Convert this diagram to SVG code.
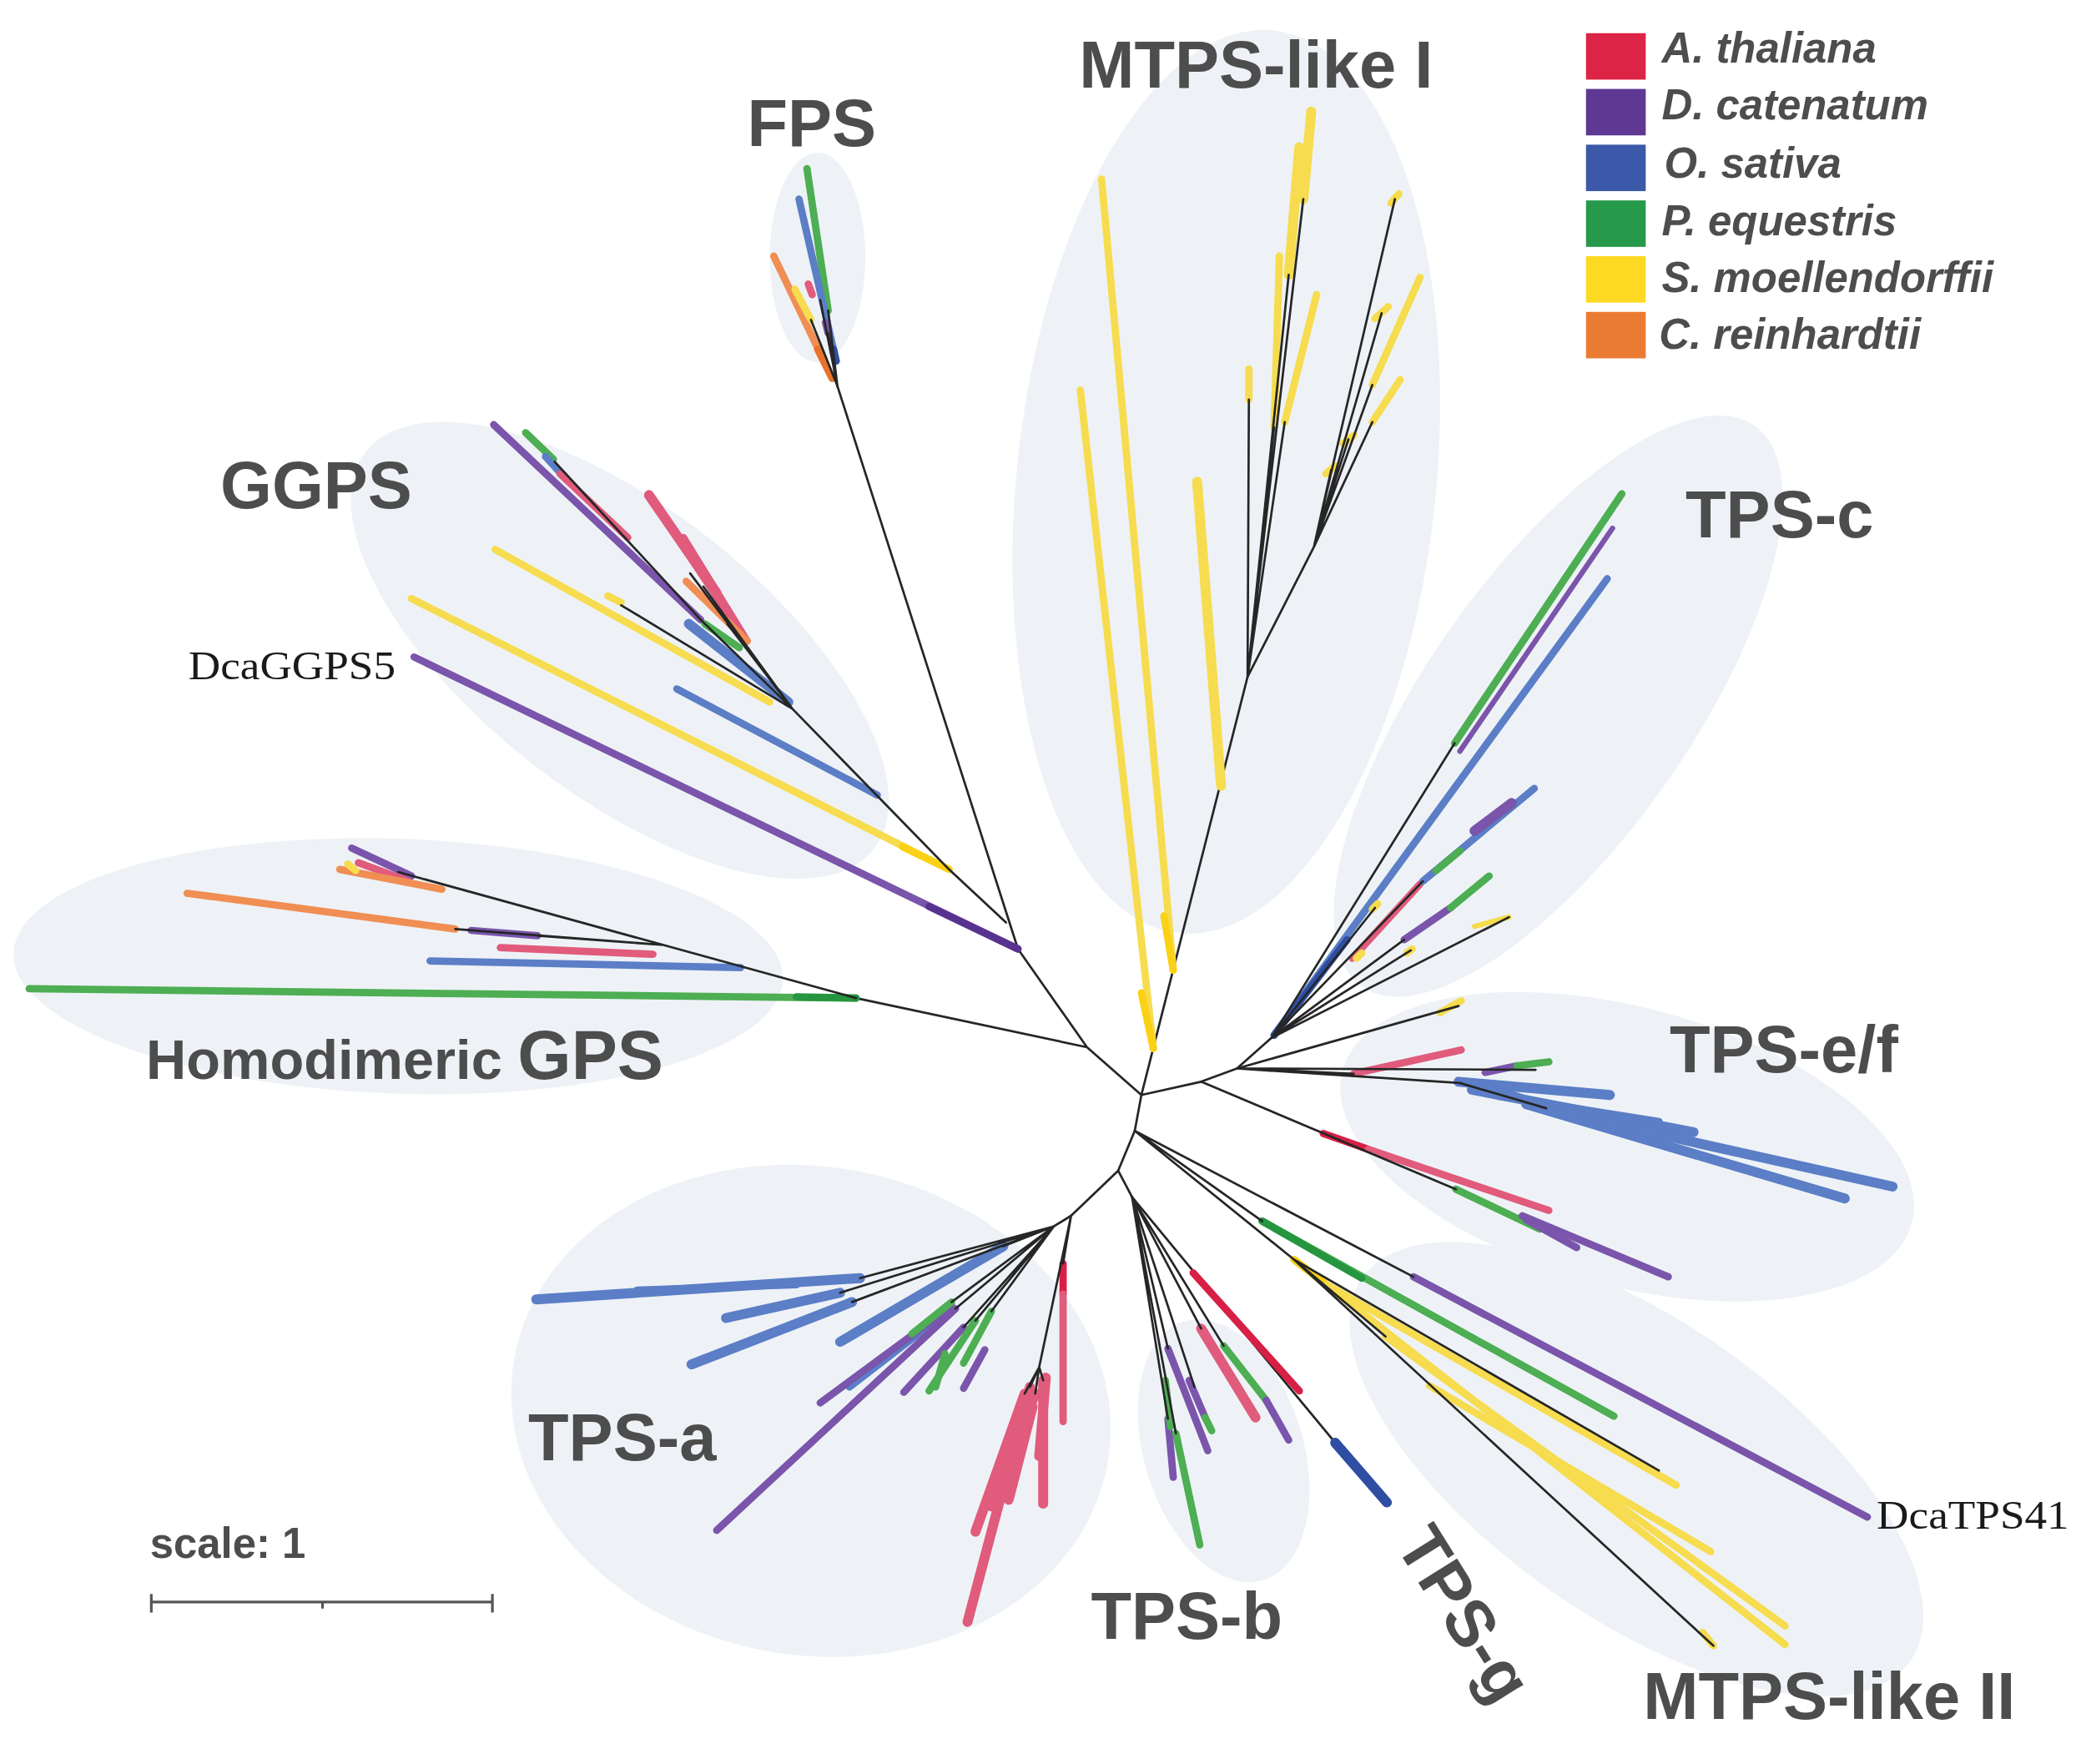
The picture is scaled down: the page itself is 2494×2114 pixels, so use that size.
<svg xmlns="http://www.w3.org/2000/svg" width="2494" height="2114" viewBox="0 0 2494 2114">
<style>
.bg{fill:#eef2f6}
.k{stroke:#262626;stroke-width:1.7;fill:none;stroke-linecap:round}
.L{stroke-width:5.5;stroke-linecap:round;fill:none}
.W{stroke-width:7.5}
.T{stroke-width:4}
.r{stroke:#e05b7c}.rd{stroke:#d81f45}
.p{stroke:#7a55ab}.pd{stroke:#58328f}
.b{stroke:#5b7ec6}.bd{stroke:#2f4ea3}
.g{stroke:#4dae53}.gd{stroke:#25953f}
.y{stroke:#f6dc4e}.yd{stroke:#fbd116}
.o{stroke:#f08e54}.od{stroke:#e9732b}
.lbl{font-family:"Liberation Sans",Arial,Helvetica,sans-serif;font-weight:bold;font-size:50px;fill:#4d4d4d}
.leg{font-family:"Liberation Sans",Arial,Helvetica,sans-serif;font-weight:bold;font-style:italic;font-size:32px;fill:#4d4d4d}
.ser{font-family:"Liberation Serif","Times New Roman",serif;font-size:31px;fill:#1a1a1a}
</style>
<rect width="2494" height="2114" fill="#ffffff"/>
<g transform="scale(1.5906)">
<g id="clade-areas">
<ellipse class="bg" cx="616" cy="194" rx="36" ry="79"/>
<ellipse class="bg" cx="924" cy="363" rx="158" ry="342" transform="rotate(6 924 363)"/>
<ellipse class="bg" cx="467" cy="490" rx="243" ry="108" transform="rotate(38 467 490)"/>
<ellipse class="bg" cx="300" cy="728" rx="290" ry="96" transform="rotate(2 300 728)"/>
<ellipse class="bg" cx="1174" cy="532" rx="258" ry="100" transform="rotate(-55 1174 532)"/>
<ellipse class="bg" cx="1226" cy="864" rx="222" ry="105" transform="rotate(15 1226 864)"/>
<ellipse class="bg" cx="1233" cy="1107" rx="252" ry="112" transform="rotate(35 1233 1107)"/>
<ellipse class="bg" cx="922" cy="1093" rx="60" ry="102" transform="rotate(-17 922 1093)"/>
<ellipse class="bg" cx="611" cy="1063" rx="227" ry="184" transform="rotate(10 611 1063)"/>
</g>

<g id="connectors">
<path class="k" d="M860,825L819,789M819,789L645,752M819,789L767,715M767,715L631,291M860,825L940,510M860,825L905,815M905,815L932,805M932,805L958,782M860,825L855,852M855,852L842.5,882M842.5,882L807,916M842.5,882L853,902M807,916L794,924"/>
</g>

<g id="clade-FPS">
<line class="L g" x1="624" y1="234" x2="608" y2="127"/>
<line class="L b" x1="630" y1="272" x2="602" y2="150"/>
<line class="L o" x1="627" y1="285" x2="583" y2="193"/>
<line class="L od" x1="627" y1="285" x2="616" y2="263"/>
<line class="L y" x1="611" y1="241" x2="599" y2="218"/>
<line class="L r" x1="612" y1="222" x2="609" y2="214"/>
<line class="L p" x1="624" y1="251" x2="622" y2="243"/>
<line class="L bd" x1="630" y1="272" x2="628" y2="263"/>
<path class="k" d="M631,291L624,234M631,291L611,241M631,291L618,226M631,291L624,251"/>
<text class="lbl" x="563" y="110">FPS</text>
</g>

<g id="clade-GGPS">
<line class="L p" x1="528" y1="467" x2="372" y2="320"/>
<line class="L g" x1="417" y1="346" x2="396" y2="326"/>
<line class="L b" x1="422" y1="356" x2="411" y2="344"/>
<line class="L r" x1="473" y1="405" x2="422" y2="357"/>
<line class="L r W" x1="540" y1="447" x2="489" y2="373"/>
<line class="L r" x1="563" y1="483" x2="515" y2="405"/>
<line class="L r" x1="552" y1="468" x2="506" y2="398"/>
<line class="L o" x1="563" y1="483" x2="517" y2="438"/>
<line class="L g" x1="557" y1="488" x2="531" y2="470"/>
<line class="L b W" x1="594" y1="529" x2="519" y2="470"/>
<line class="L y" x1="468" y1="454" x2="458" y2="449"/>
<line class="L y" x1="580" y1="529" x2="373" y2="414"/>
<line class="L b" x1="661" y1="599" x2="510" y2="519"/>
<line class="L y" x1="715" y1="655" x2="310" y2="451"/>
<line class="L yd" x1="715" y1="655" x2="680" y2="638"/>
<line class="L p" x1="767" y1="715" x2="312" y2="495"/>
<line class="L pd" x1="767" y1="715" x2="700" y2="683"/>
<path class="k" d="M758,695L715,655L597,534M597,534L528,467L418,348M597,534L520,432M597,534L530,442M597,534L548,470M597,534L468,456"/>
<text class="lbl" x="166" y="383">GGPS</text>
<text class="ser" x="142" y="512" textLength="156" lengthAdjust="spacingAndGlyphs">DcaGGPS5</text>
</g>

<g id="clade-HomodimericGPS">
<line class="L g" x1="645" y1="752" x2="22" y2="745"/>
<line class="L gd" x1="645" y1="752" x2="600" y2="751"/>
<line class="L b" x1="558" y1="729" x2="324" y2="724"/>
<line class="L o" x1="343" y1="700" x2="141" y2="673"/>
<line class="L r" x1="492" y1="719" x2="377" y2="714"/>
<line class="L p" x1="405" y1="705" x2="355" y2="701"/>
<line class="L p" x1="310" y1="660" x2="265" y2="639"/>
<line class="L r" x1="308" y1="664" x2="270" y2="650"/>
<line class="L o" x1="333" y1="670" x2="256" y2="655"/>
<line class="L y" x1="268" y1="656" x2="262" y2="651"/>
<path class="k" d="M645,752L300,657M500,712L343,700M500,712L405,705"/>
<text class="lbl" x="110" y="813"><tspan font-size="42">Homodimeric </tspan><tspan font-size="52">GPS</tspan></text>
</g>

<g id="clade-MTPS-like-I">
<line class="L y" x1="884" y1="731" x2="830" y2="135"/>
<line class="L yd" x1="884" y1="731" x2="877" y2="690"/>
<line class="L y" x1="869" y1="790" x2="814" y2="294"/>
<line class="L yd" x1="869" y1="790" x2="860" y2="748"/>
<line class="L y W" x1="920" y1="592" x2="902" y2="363"/>
<line class="L y" x1="941" y1="301" x2="941" y2="278"/>
<line class="L y W" x1="982" y1="150" x2="988" y2="84"/>
<line class="L y W" x1="971" y1="207" x2="979" y2="111"/>
<line class="L y" x1="960" y1="322" x2="964" y2="193"/>
<line class="L y" x1="968" y1="318" x2="992" y2="222"/>
<line class="L y" x1="1054" y1="146" x2="1048" y2="153"/>
<line class="L y" x1="1046" y1="231" x2="1036" y2="240"/>
<line class="L y" x1="1034" y1="290" x2="1070" y2="209"/>
<line class="L y" x1="1034" y1="318" x2="1055" y2="286"/>
<line class="L y" x1="1012" y1="334" x2="1020" y2="328"/>
<line class="L y" x1="999" y1="357" x2="1006" y2="351"/>
<path class="k" d="M940,510L941,301M940,510L982,150M940,510L971,207M940,510L960,322M940,510L968,318M940,510L990,412M990,412L1051,150M990,412L1041,236M990,412L1034,290M990,412L1034,318M990,412L1016,331M990,412L1003,354"/>
<text class="lbl" x="813" y="66">MTPS-like I</text>
</g>

<g id="clade-TPS-c">
<line class="L b" x1="960" y1="780" x2="1211" y2="436"/>
<line class="L bd" x1="960" y1="780" x2="1015" y2="708"/>
<line class="L p T" x1="1100" y1="566" x2="1215" y2="398"/>
<line class="L g" x1="1096" y1="560" x2="1222" y2="372"/>
<line class="L r" x1="1019" y1="722" x2="1070" y2="666"/>
<line class="L b" x1="1072" y1="664" x2="1156" y2="594"/>
<line class="L p W" x1="1111" y1="626" x2="1139" y2="605"/>
<line class="L g" x1="1082" y1="656" x2="1100" y2="641"/>
<line class="L p" x1="1058" y1="708" x2="1093" y2="684"/>
<line class="L g" x1="1093" y1="684" x2="1122" y2="660"/>
<line class="L y T" x1="1111" y1="698" x2="1137" y2="691"/>
<line class="L y" x1="1060" y1="718" x2="1064" y2="715"/>
<line class="L y" x1="1034" y1="685" x2="1038" y2="681"/>
<line class="L y" x1="1022" y1="722" x2="1026" y2="718"/>
<path class="k" d="M958,782L1096,560M958,782L1072,664M958,782L1058,708M958,782L1137,691M958,782L1063,716M958,782L1036,684"/>
<text class="lbl" x="1270" y="405">TPS-c</text>
</g>

<g id="clade-TPS-ef">
<line class="L y" x1="1085" y1="763" x2="1101" y2="754"/>
<line class="L r" x1="1020" y1="809" x2="1101" y2="791"/>
<line class="L p" x1="1119" y1="808" x2="1143" y2="803"/>
<line class="L g" x1="1143" y1="803" x2="1167" y2="800"/>
<line class="L b W" x1="1099" y1="815" x2="1213" y2="825"/>
<line class="L b W" x1="1109" y1="821" x2="1276" y2="853"/>
<line class="L b W" x1="1150" y1="832" x2="1390" y2="903"/>
<line class="L b W" x1="1184" y1="840" x2="1426" y2="894"/>
<line class="L b" x1="1130" y1="826" x2="1250" y2="845" stroke-width="9"/>
<line class="L b" x1="1120" y1="818" x2="1170" y2="835" stroke-width="10"/>
<line class="L rd" x1="997" y1="854" x2="1031" y2="866"/>
<line class="L r" x1="1031" y1="866" x2="1167" y2="912"/>
<line class="L g" x1="1097" y1="896" x2="1160" y2="926"/>
<line class="L p" x1="1147" y1="916" x2="1257" y2="962"/>
<line class="L p" x1="1150" y1="919" x2="1188" y2="940" stroke-width="9"/>
<path class="k" d="M932,805L1099,758M932,805L1020,809M932,805L1157,806M932,805L1100,816L1165,835M905,815L1097,896"/>
<text class="lbl" x="1258" y="808">TPS-e/f</text>
</g>

<g id="clade-MTPS-like-II">
<line class="L p" x1="1065" y1="962" x2="1407" y2="1143"/>
<line class="L g" x1="951" y1="920" x2="1216" y2="1067"/>
<line class="L gd" x1="951" y1="920" x2="1026" y2="963"/>
<line class="L y" x1="975" y1="949" x2="1345" y2="1239"/>
<line class="L yd" x1="975" y1="949" x2="1010" y2="976"/>
<line class="L y" x1="1044" y1="1007" x2="1345" y2="1225"/>
<line class="L y" x1="1077" y1="1044" x2="1289" y2="1169"/>
<line class="L y" x1="1000" y1="968" x2="1263" y2="1119"/>
<line class="L y" x1="1283" y1="1230" x2="1291" y2="1240"/>
<path class="k" d="M855,852L1065,962M855,852L951,920M855,852L975,949M975,949L1250,1108M975,949L1291,1240M975,949L1044,1007"/>
<text class="lbl" x="1238" y="1295">MTPS-like II</text>
<text class="ser" x="1414" y="1152" textLength="145" lengthAdjust="spacingAndGlyphs">DcaTPS41</text>
</g>

<g id="clade-TPS-g">
<path class="k" d="M853,902L1006,1087"/>
<line class="L bd W" x1="1006" y1="1087" x2="1045" y2="1132"/>
<text class="lbl" x="1089" y="1225" text-anchor="middle" transform="rotate(58 1089 1225)">TPS-g</text>
</g>

<g id="clade-TPS-b">
<line class="L rd" x1="899" y1="959" x2="979" y2="1048"/>
<line class="L r W" x1="905" y1="1001" x2="946" y2="1068"/>
<line class="L g" x1="922" y1="1014" x2="954" y2="1055"/>
<line class="L p" x1="954" y1="1055" x2="971" y2="1085"/>
<line class="L p" x1="880" y1="1016" x2="910" y2="1093"/>
<line class="L p" x1="880" y1="1069" x2="884" y2="1113"/>
<line class="L g" x1="886" y1="1080" x2="904" y2="1164"/>
<line class="L p" x1="896" y1="1040" x2="908" y2="1068"/>
<line class="L g" x1="908" y1="1068" x2="913" y2="1078"/>
<line class="L g" x1="878" y1="1040" x2="882" y2="1075"/>
<path class="k" d="M853,902L880,1016M853,902L880,1069M853,902L886,1080M853,902L905,1001M853,902L922,1014M853,902L900,1045"/>
<text class="lbl" x="822" y="1235">TPS-b</text>
</g>

<g id="clade-TPS-a">
<line class="L rd" x1="801" y1="952" x2="801" y2="975"/>
<line class="L r" x1="801" y1="975" x2="801" y2="1071"/>
<line class="L b W" x1="648" y1="963" x2="404" y2="979"/>
<line class="L b" x1="600" y1="968" x2="480" y2="972" stroke-width="9"/>
<line class="L b W" x1="642" y1="981" x2="521" y2="1028"/>
<line class="L b W" x1="633" y1="974" x2="547" y2="993"/>
<line class="L b W" x1="756" y1="939" x2="633" y2="1011"/>
<line class="L b" x1="705" y1="995" x2="640" y2="1045"/>
<line class="L p" x1="720" y1="986" x2="540" y2="1153"/>
<line class="L p" x1="717" y1="984" x2="618" y2="1057"/>
<line class="L g" x1="717" y1="981" x2="687" y2="1005"/>
<line class="L p" x1="726" y1="1000" x2="681" y2="1049"/>
<line class="L g" x1="735" y1="995" x2="700" y2="1048"/>
<line class="L g" x1="747" y1="988" x2="726" y2="1027"/>
<line class="L p" x1="742" y1="1017" x2="726" y2="1046"/>
<line class="L g" x1="712" y1="1020" x2="705" y2="1045"/>
<line class="L r W" x1="776" y1="1045" x2="729" y2="1222"/>
<line class="L r W" x1="772" y1="1050" x2="735" y2="1154"/>
<line class="L r W" x1="780" y1="1050" x2="747" y2="1135"/>
<line class="L r W" x1="786" y1="1040" x2="786" y2="1133"/>
<line class="L r W" x1="788" y1="1038" x2="783" y2="1097"/>
<line class="L r W" x1="778" y1="1060" x2="760" y2="1130"/>
<path class="k" d="M807,916L801,952M794,924L648,963M794,924L642,981M794,924L633,974M794,924L756,939M794,924L720,986M794,924L717,981M794,924L726,1000M794,924L747,988M794,924L735,995M807,916L783,1030M783,1030L776,1045M783,1030L772,1050M783,1030L780,1050M783,1030L786,1040"/>
<text class="lbl" x="398" y="1100">TPS-a</text>
</g>

<g id="legend">
<rect x="1195" y="25" width="45" height="35" fill="#dc2446"/>
<rect x="1195" y="67" width="45" height="35" fill="#5e3893"/>
<rect x="1195" y="109" width="45" height="35" fill="#3b59a8"/>
<rect x="1195" y="151" width="45" height="35" fill="#27994a"/>
<rect x="1195" y="193" width="45" height="35" fill="#fdd923"/>
<rect x="1195" y="235" width="45" height="35" fill="#eb7a33"/>
<text class="leg" x="1252" y="47">A. thaliana</text>
<text class="leg" x="1252" y="90">D. catenatum</text>
<text class="leg" x="1254" y="134">O. sativa</text>
<text class="leg" x="1252" y="177">P. equestris</text>
<text class="leg" x="1252" y="220">S. moellendorffii</text>
<text class="leg" x="1250" y="263">C. reinhardtii</text>
</g>

<g id="scale-bar">
<text class="lbl" x="113" y="1174" style="font-size:32px">scale: 1</text>
<path d="M114,1207H371M114,1201V1215M371,1201V1215M243,1207V1212" stroke="#555" stroke-width="2" fill="none"/>
</g>
</g>
</svg>
